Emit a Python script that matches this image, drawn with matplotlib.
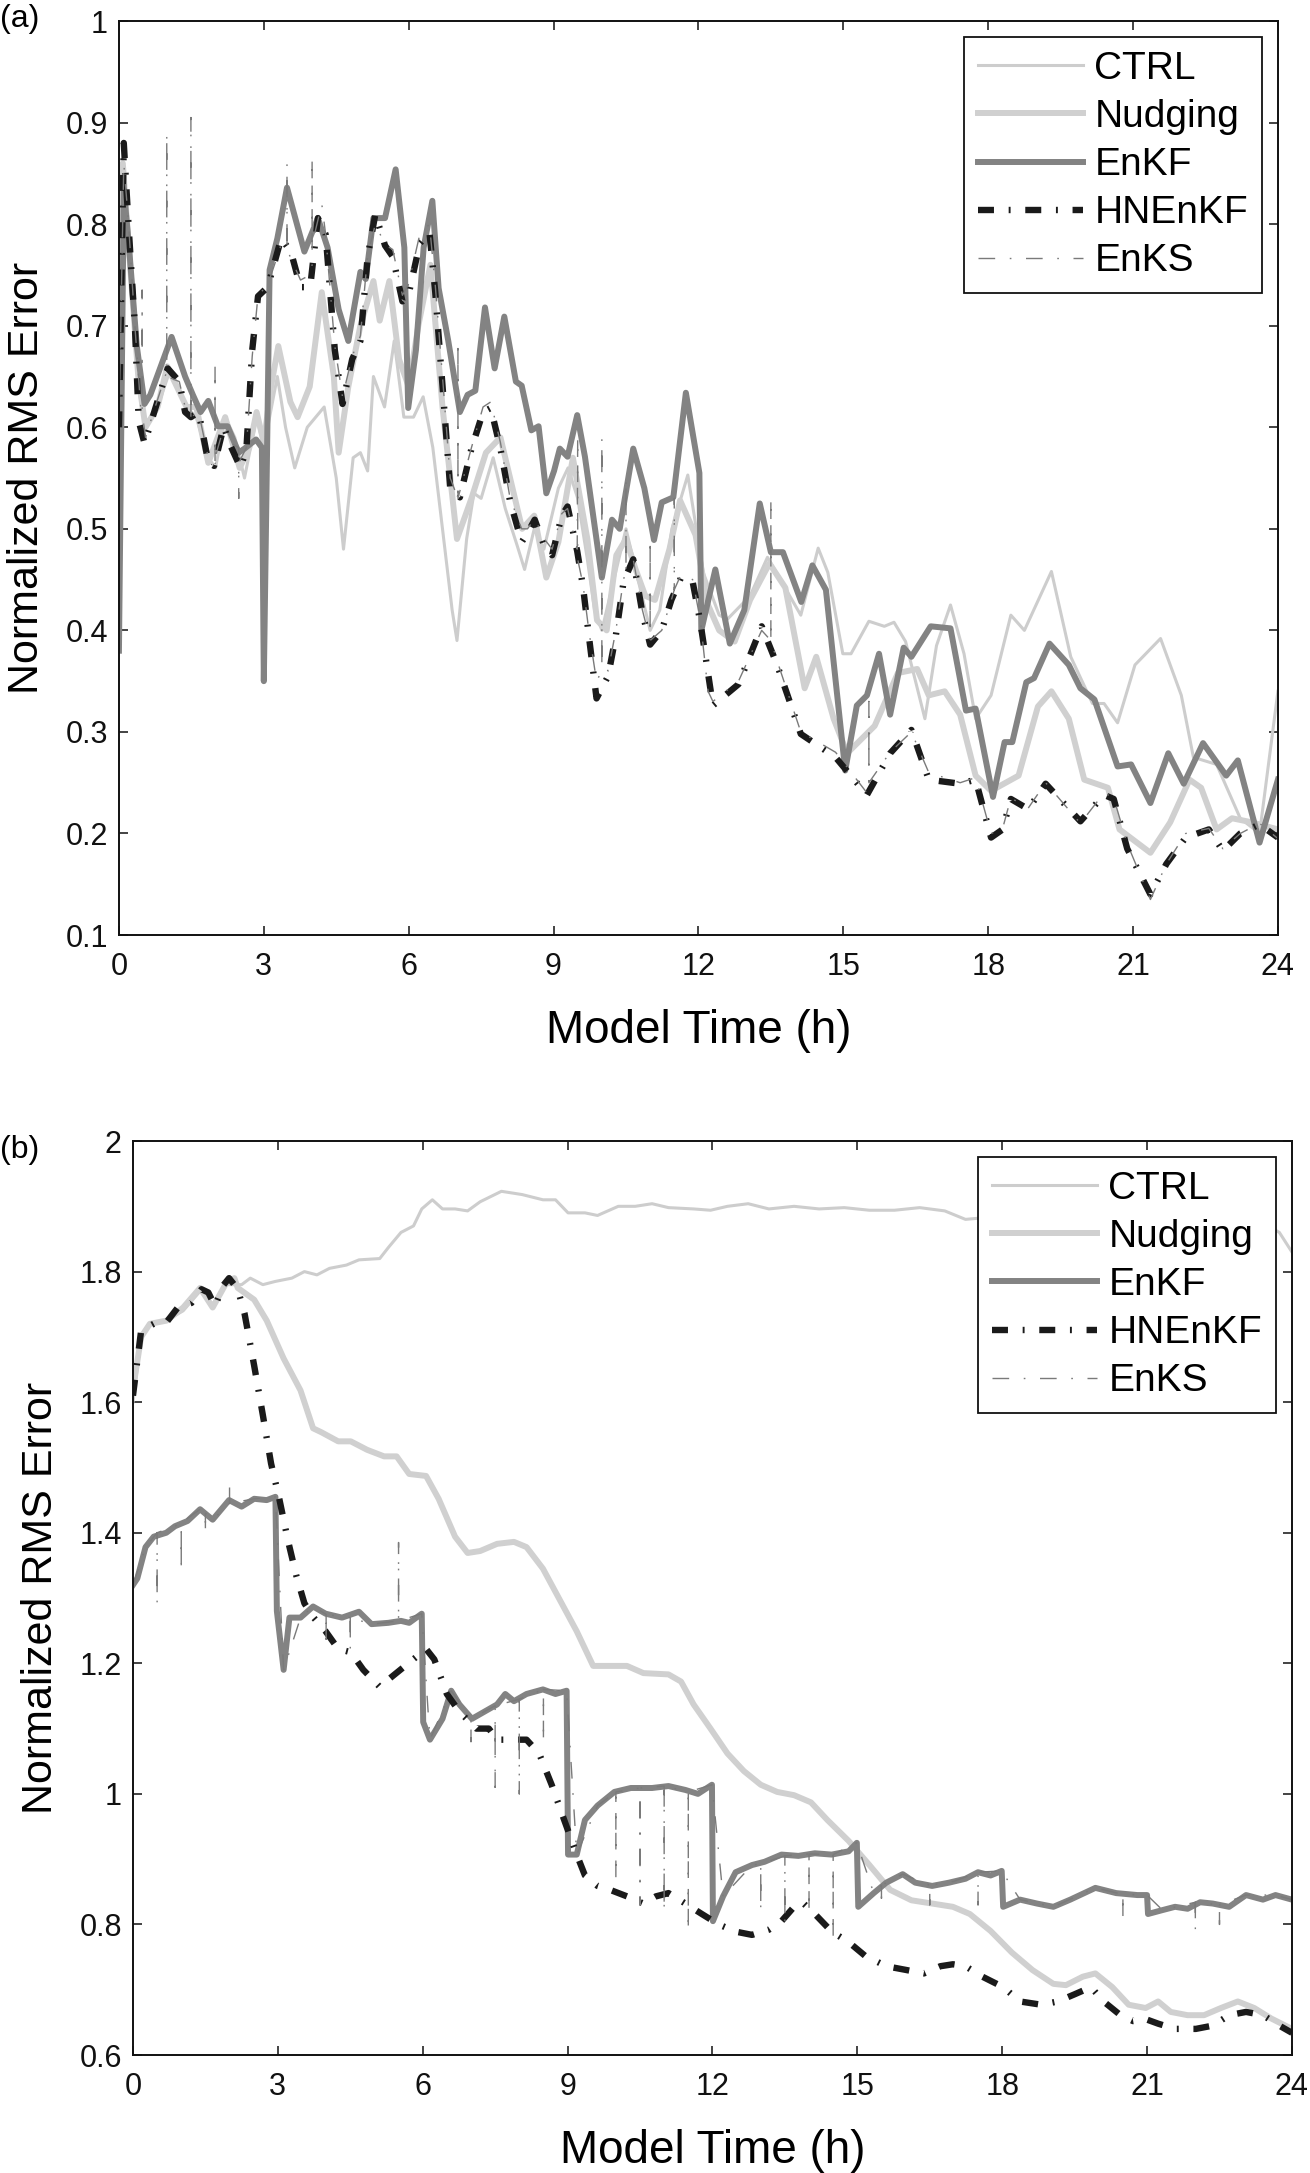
import matplotlib
matplotlib.use('Agg')
import matplotlib.pyplot as plt

plt.rcParams['font.family'] = ['Liberation Sans', 'DejaVu Sans']

# ---- panel (a) ----
a_ctrl_t = [0, 0.05, 0.2, 0.4, 0.55, 0.8, 1.05, 1.4, 1.6, 1.85, 2.0, 2.2, 2.4, 2.6, 2.85, 3.0,
            3.28, 3.45, 3.64, 3.9, 4.25, 4.5, 4.65, 4.85, 5.0, 5.15, 5.27, 5.5, 5.7, 5.9, 6.1,
            6.3, 6.5, 6.7, 6.9, 7.0, 7.2, 7.35, 7.5, 7.75, 8.0, 8.25, 8.4, 8.6, 8.8, 9.1, 9.3,
            9.5, 9.7, 9.85, 10.0, 10.2, 10.5, 10.8, 11.0, 11.2, 11.45, 11.78, 12.1, 12.43, 12.6,
            13.07, 13.43, 14.12, 14.48, 14.68, 14.99, 15.16, 15.53, 15.85, 16.05, 16.29, 16.69,
            16.93, 17.22, 17.5, 17.74, 18.06, 18.47, 18.75, 19.31, 19.71, 20.16, 20.4, 20.68,
            21.04, 21.57, 22.0, 22.25, 22.73, 23.22, 23.62, 24]
a_ctrl_v = [0.45, 0.86, 0.78, 0.64, 0.60, 0.62, 0.655, 0.62, 0.61, 0.57, 0.56, 0.61, 0.59, 0.55,
            0.61, 0.58, 0.65, 0.60, 0.56, 0.60, 0.62, 0.55, 0.48, 0.57, 0.575, 0.557, 0.65, 0.62,
            0.685, 0.61, 0.61, 0.63, 0.58, 0.50, 0.42, 0.39, 0.49, 0.535, 0.53, 0.57, 0.52, 0.483,
            0.46, 0.50, 0.48, 0.54, 0.56, 0.53, 0.47, 0.42, 0.40, 0.44, 0.50, 0.44, 0.40, 0.42,
            0.50, 0.553, 0.457, 0.415, 0.411, 0.434, 0.472, 0.415, 0.481, 0.457, 0.377, 0.377,
            0.409, 0.404, 0.408, 0.389, 0.313, 0.385, 0.425, 0.377, 0.313, 0.336, 0.415, 0.40,
            0.458, 0.374, 0.328, 0.328, 0.309, 0.366, 0.392, 0.336, 0.275, 0.268, 0.215, 0.20,
            0.34]

a_nudg_t = [0, 0.08, 0.2, 0.4, 0.55, 0.8, 1.0, 1.4, 1.6, 1.85, 2.2, 2.5, 2.7, 2.85, 3.0, 3.15,
            3.3, 3.55, 3.7, 3.95, 4.2, 4.45, 4.55, 4.75, 5.0, 5.27, 5.4, 5.6, 5.8, 6.0, 6.2, 6.45,
            6.7, 7.0, 7.3, 7.6, 7.9, 8.1, 8.35, 8.6, 8.85, 9.1, 9.4, 9.7, 9.9, 10.1, 10.3, 10.5,
            10.7, 10.9, 11.1, 11.4, 11.62, 11.94, 12.19, 12.43, 12.75, 13.07, 13.47, 13.8, 14.2,
            14.44, 14.8, 15.08, 15.65, 16.13, 16.53, 16.77, 17.1, 17.42, 17.74, 18.06, 18.63,
            19.03, 19.31, 19.67, 19.99, 20.48, 20.72, 21.36, 21.77, 22.17, 22.41, 22.73, 23.05,
            23.46, 24]
a_nudg_v = [0.55, 0.86, 0.78, 0.65, 0.60, 0.62, 0.66, 0.62, 0.62, 0.565, 0.61, 0.56, 0.58, 0.615,
            0.585, 0.64, 0.68, 0.625, 0.61, 0.64, 0.733, 0.65, 0.575, 0.64, 0.70, 0.744, 0.705,
            0.744, 0.667, 0.64, 0.70, 0.76, 0.62, 0.49, 0.53, 0.575, 0.59, 0.55, 0.50, 0.513,
            0.452, 0.487, 0.57, 0.49, 0.41, 0.40, 0.474, 0.49, 0.46, 0.434, 0.43, 0.48, 0.528,
            0.494, 0.426, 0.40, 0.389, 0.43, 0.466, 0.442, 0.343, 0.374, 0.313, 0.279, 0.306,
            0.358, 0.362, 0.336, 0.34, 0.317, 0.257, 0.242, 0.257, 0.325, 0.34, 0.313, 0.253,
            0.245, 0.204, 0.181, 0.211, 0.253, 0.245, 0.204, 0.215, 0.211, 0.204]

a_enkf_t = [0, 0.1, 0.21, 0.37, 0.53, 0.65, 1.09, 1.37, 1.53, 1.69, 1.85, 2.05, 2.25, 2.48, 2.6,
            2.84, 2.96, 3.0, 3.12, 3.28, 3.48, 3.84, 4.12, 4.32, 4.55, 4.75, 5.0, 5.11, 5.27,
            5.51, 5.73, 5.91, 5.99, 6.15, 6.31, 6.49, 6.62, 6.82, 7.06, 7.22, 7.38, 7.58, 7.78,
            7.98, 8.22, 8.34, 8.54, 8.69, 8.85, 9.01, 9.13, 9.29, 9.49, 9.65, 10.0, 10.21, 10.37,
            10.65, 10.88, 11.08, 11.24, 11.48, 11.74, 12.02, 12.06, 12.35, 12.65, 12.95, 13.27,
            13.5, 13.75, 14.13, 14.36, 14.64, 15.04, 15.28, 15.49, 15.74, 15.97, 16.25, 16.41,
            16.81, 17.22, 17.54, 17.74, 18.1, 18.34, 18.5, 18.79, 18.95, 19.27, 19.67, 19.91,
            20.2, 20.68, 20.96, 21.36, 21.73, 22.05, 22.45, 22.93, 23.17, 23.62, 24]
a_enkf_v = [0.38, 0.834, 0.777, 0.68, 0.623, 0.632, 0.689, 0.65, 0.632, 0.615, 0.626, 0.601,
            0.601, 0.575, 0.579, 0.588, 0.58, 0.35, 0.755, 0.786, 0.836, 0.773, 0.806, 0.777,
            0.716, 0.685, 0.753, 0.746, 0.806, 0.806, 0.854, 0.777, 0.619, 0.676, 0.777, 0.823,
            0.737, 0.685, 0.615, 0.632, 0.636, 0.718, 0.658, 0.709, 0.645, 0.641, 0.597, 0.601,
            0.535, 0.557, 0.579, 0.571, 0.612, 0.571, 0.452, 0.509, 0.50, 0.579, 0.54, 0.489,
            0.526, 0.531, 0.634, 0.555, 0.40, 0.46, 0.387, 0.42, 0.525, 0.477, 0.477, 0.428,
            0.464, 0.44, 0.262, 0.326, 0.336, 0.377, 0.317, 0.383, 0.374, 0.404, 0.402, 0.321,
            0.323, 0.236, 0.29, 0.29, 0.349, 0.353, 0.387, 0.366, 0.343, 0.332, 0.266, 0.268,
            0.23, 0.279, 0.249, 0.289, 0.257, 0.272, 0.191, 0.253]

a_hn_t = [0, 0.1, 0.21, 0.33, 0.41, 0.53, 0.73, 1.01, 1.25, 1.37, 1.49, 1.65, 1.85, 1.97, 2.17,
          2.29, 2.52, 2.64, 2.76, 2.88, 3.08, 3.36, 3.56, 3.76, 3.96, 4.12, 4.28, 4.47, 4.63,
          4.83, 5.0, 5.15, 5.31, 5.51, 5.67, 5.87, 5.99, 6.23, 6.43, 6.55, 6.7, 6.86, 7.06, 7.3,
          7.54, 7.7, 7.9, 8.1, 8.34, 8.46, 8.61, 8.81, 8.97, 9.17, 9.29, 9.49, 9.61, 9.73, 9.89,
          10.13, 10.29, 10.45, 10.65, 10.84, 11.0, 11.24, 11.44, 11.64, 11.88, 12.04, 12.3,
          12.83, 13.31, 13.63, 14.12, 14.84, 15.49, 15.97, 16.41, 16.77, 17.42, 17.74, 18.06,
          18.3, 18.47, 18.83, 19.19, 19.91, 20.4, 20.6, 20.88, 21.36, 21.69, 22.09, 22.57,
          22.86, 23.22, 23.62, 24]
a_hn_v = [0.60, 0.88, 0.79, 0.70, 0.606, 0.584, 0.615, 0.658, 0.645, 0.615, 0.61, 0.615, 0.566,
          0.562, 0.601, 0.584, 0.56, 0.579, 0.676, 0.729, 0.738, 0.786, 0.773, 0.738, 0.738,
          0.806, 0.79, 0.676, 0.623, 0.667, 0.685, 0.768, 0.81, 0.779, 0.768, 0.724, 0.729,
          0.781, 0.792, 0.733, 0.641, 0.54, 0.531, 0.579, 0.615, 0.619, 0.579, 0.527, 0.487,
          0.496, 0.509, 0.483, 0.474, 0.513, 0.522, 0.478, 0.443, 0.395, 0.333, 0.355, 0.395,
          0.448, 0.47, 0.417, 0.386, 0.40, 0.43, 0.452, 0.448, 0.408, 0.326, 0.347, 0.404,
          0.366, 0.298, 0.275, 0.238, 0.279, 0.302, 0.253, 0.249, 0.253, 0.196, 0.204, 0.234,
          0.224, 0.249, 0.212, 0.238, 0.234, 0.185, 0.14, 0.17, 0.196, 0.204, 0.183, 0.20,
          0.209, 0.196]

a_enks_t = [0.0, 0.1, 0.2, 0.33, 0.45, 0.48, 0.48, 0.48, 0.55, 0.75, 0.99, 0.99, 0.99, 1.25,
            1.37, 1.49, 1.49, 1.49, 1.65, 1.85, 1.99, 1.99, 1.99, 2.17, 2.29, 2.48, 2.48, 2.48,
            2.64, 2.76, 2.88, 3.08, 3.36, 3.48, 3.48, 3.48, 3.76, 3.96, 4.0, 4.0, 4.0, 4.2, 4.28,
            4.47, 4.63, 4.83, 5.0, 5.15, 5.31, 5.51, 5.67, 5.87, 5.99, 6.23, 6.43, 6.55, 6.7,
            6.86, 7.02, 7.02, 7.02, 7.3, 7.54, 7.7, 7.9, 8.1, 8.34, 8.46, 8.61, 8.81, 8.97, 9.17,
            9.29, 9.49, 9.5, 9.5, 9.61, 9.73, 9.89, 10.0, 10.0, 10.0, 10.13, 10.29, 10.45, 10.5,
            10.5, 10.5, 10.65, 10.84, 11.0, 11.0, 11.0, 11.24, 11.44, 11.5, 11.5, 11.5, 11.64,
            11.88, 12.04, 12.2, 12.3, 12.83, 13.31, 13.5, 13.5, 13.5, 13.63, 14.12, 14.84, 15.49,
            15.53, 15.53, 15.53, 15.97, 16.41, 16.77, 17.42, 17.74, 18.06, 18.3, 18.47, 18.83,
            19.19, 19.91, 20.4, 20.6, 20.88, 21.36, 21.69, 22.09, 22.57, 22.86, 23.22, 23.62, 24]
a_enks_v = [0.60, 0.86, 0.80, 0.70, 0.62, 0.62, 0.735, 0.615, 0.59, 0.62, 0.655, 0.89, 0.65,
            0.645, 0.62, 0.61, 0.905, 0.61, 0.615, 0.57, 0.565, 0.66, 0.57, 0.60, 0.585, 0.58,
            0.53, 0.565, 0.58, 0.67, 0.73, 0.74, 0.78, 0.775, 0.86, 0.775, 0.745, 0.75, 0.76,
            0.865, 0.78, 0.82, 0.79, 0.68, 0.63, 0.67, 0.69, 0.77, 0.80, 0.78, 0.775, 0.73, 0.74,
            0.79, 0.80, 0.74, 0.65, 0.55, 0.53, 0.685, 0.53, 0.58, 0.62, 0.625, 0.585, 0.53, 0.50,
            0.50, 0.51, 0.49, 0.48, 0.515, 0.52, 0.48, 0.59, 0.47, 0.445, 0.40, 0.35, 0.36, 0.59,
            0.37, 0.36, 0.40, 0.45, 0.46, 0.55, 0.46, 0.47, 0.42, 0.39, 0.49, 0.39, 0.40, 0.43,
            0.44, 0.53, 0.44, 0.455, 0.45, 0.41, 0.34, 0.33, 0.35, 0.40, 0.39, 0.53, 0.39, 0.37,
            0.30, 0.28, 0.24, 0.24, 0.33, 0.25, 0.28, 0.30, 0.26, 0.25, 0.255, 0.20, 0.205, 0.235,
            0.225, 0.25, 0.21, 0.24, 0.235, 0.19, 0.135, 0.17, 0.20, 0.205, 0.185, 0.20, 0.21,
            0.195]

# ---- panel (b) ----
b_ctrl_t = [0, 0.17, 0.35, 0.69, 1.04, 1.39, 1.65, 1.91, 2.25, 2.43, 2.69, 2.95, 3.29, 3.55,
            3.81, 4.07, 4.42, 4.68, 5.11, 5.29, 5.55, 5.81, 5.98, 6.2, 6.41, 6.67, 6.93, 7.19,
            7.63, 8.06, 8.49, 8.75, 9.01, 9.36, 9.62, 10.05, 10.4, 10.75, 11.09, 11.61, 11.96,
            12.31, 12.74, 13.17, 13.69, 14.21, 14.73, 15.25, 15.77, 16.29, 16.81, 17.24, 18.0,
            20.0, 22.0, 23.5, 23.74, 24]
b_ctrl_v = [1.60, 1.70, 1.72, 1.725, 1.74, 1.77, 1.75, 1.78, 1.78, 1.79, 1.78, 1.785, 1.79, 1.80,
            1.795, 1.805, 1.81, 1.818, 1.82, 1.837, 1.86, 1.87, 1.896, 1.91, 1.896, 1.896, 1.893,
            1.907, 1.923, 1.918, 1.91, 1.91, 1.89, 1.89, 1.886, 1.90, 1.90, 1.904, 1.898, 1.896,
            1.894, 1.90, 1.904, 1.896, 1.90, 1.896, 1.898, 1.894, 1.894, 1.898, 1.893, 1.88,
            1.885, 1.89, 1.88, 1.87, 1.86, 1.83]

b_nudg_t = [0, 0.17, 0.35, 0.7, 1.04, 1.39, 1.65, 1.95, 2.1, 2.17, 2.51, 2.77, 3.12, 3.47, 3.73,
            3.9, 4.25, 4.51, 4.85, 5.2, 5.46, 5.72, 6.07, 6.33, 6.67, 6.93, 7.19, 7.54, 7.89,
            8.15, 8.49, 8.84, 9.19, 9.53, 9.88, 10.23, 10.57, 11.09, 11.35, 11.61, 11.96, 12.31,
            12.65, 13.0, 13.34, 13.69, 14.04, 14.38, 14.82, 15.25, 15.68, 16.12, 16.55, 16.98,
            17.33, 17.76, 18.2, 18.63, 19.06, 19.32, 19.67, 19.93, 20.28, 20.62, 20.97, 21.23,
            21.49, 21.84, 22.18, 22.53, 22.88, 23.22, 23.57, 24]
b_nudg_v = [1.62, 1.70, 1.72, 1.725, 1.745, 1.775, 1.745, 1.785, 1.79, 1.775, 1.757, 1.725,
            1.667, 1.618, 1.56, 1.554, 1.54, 1.54, 1.527, 1.517, 1.517, 1.49, 1.487, 1.452,
            1.394, 1.369, 1.372, 1.383, 1.386, 1.378, 1.345, 1.297, 1.249, 1.196, 1.196, 1.196,
            1.185, 1.183, 1.172, 1.137, 1.10, 1.062, 1.035, 1.014, 1.003, 0.998, 0.987, 0.96,
            0.928, 0.891, 0.853, 0.837, 0.832, 0.827, 0.816, 0.79, 0.757, 0.73, 0.709, 0.707,
            0.72, 0.725, 0.704, 0.677, 0.672, 0.682, 0.666, 0.661, 0.661, 0.672, 0.682, 0.672,
            0.656, 0.64]

b_enkf_t = [0, 0.09, 0.26, 0.43, 0.69, 0.87, 1.13, 1.39, 1.65, 1.99, 2.25, 2.51, 2.77, 2.95,
            2.98, 3.12, 3.24, 3.47, 3.73, 3.99, 4.33, 4.68, 4.94, 5.29, 5.55, 5.72, 5.98, 6.01,
            6.15, 6.41, 6.59, 6.76, 7.02, 7.28, 7.54, 7.71, 7.89, 8.15, 8.49, 8.75, 8.98, 9.01,
            9.19, 9.36, 9.62, 9.97, 10.31, 10.75, 11.09, 11.44, 11.7, 11.99, 12.01, 12.22, 12.48,
            12.82, 13.08, 13.43, 13.78, 14.12, 14.47, 14.82, 14.99, 15.02, 15.34, 15.6, 15.94,
            16.2, 16.55, 16.9, 17.24, 17.5, 17.76, 17.99, 18.02, 18.37, 18.72, 19.06, 19.41,
            19.93, 20.36, 20.8, 21.0, 21.02, 21.32, 21.58, 21.84, 22.1, 22.36, 22.7, 23.05, 23.4,
            23.66, 24]
b_enkf_v = [1.32, 1.33, 1.378, 1.394, 1.40, 1.41, 1.418, 1.436, 1.42, 1.45, 1.44, 1.452, 1.45,
            1.455, 1.28, 1.19, 1.27, 1.27, 1.287, 1.276, 1.27, 1.279, 1.26, 1.262, 1.265, 1.262,
            1.276, 1.11, 1.083, 1.115, 1.158, 1.137, 1.115, 1.126, 1.137, 1.153, 1.142, 1.153,
            1.16, 1.153, 1.158, 0.907, 0.907, 0.96, 0.982, 1.003, 1.009, 1.009, 1.012, 1.006,
            1.0, 1.014, 0.805, 0.843, 0.88, 0.891, 0.896, 0.907, 0.905, 0.909, 0.907, 0.912,
            0.925, 0.827, 0.848, 0.864, 0.877, 0.864, 0.859, 0.864, 0.87, 0.88, 0.875, 0.882,
            0.827, 0.838, 0.832, 0.827, 0.838, 0.856, 0.848, 0.845, 0.845, 0.816, 0.822, 0.827,
            0.824, 0.834, 0.832, 0.827, 0.845, 0.838, 0.845, 0.838]

b_hn_t = [0, 0.17, 0.43, 0.69, 0.95, 1.21, 1.42, 1.56, 1.70, 1.87, 1.99, 2.17, 2.31, 2.51, 2.69,
          2.86, 3.03, 3.21, 3.38, 3.55, 3.73, 3.99, 4.25, 4.51, 4.77, 5.11, 5.37, 5.72, 6.07,
          6.24, 6.5, 6.76, 7.11, 7.37, 7.54, 7.89, 8.15, 8.41, 8.67, 8.93, 9.19, 9.36, 9.62,
          9.88, 10.23, 10.57, 10.83, 11.09, 11.44, 11.78, 12.13, 12.48, 12.82, 13.17, 13.43,
          13.69, 13.86, 14.12, 14.47, 14.82, 15.16, 15.6, 16.03, 16.38, 16.72, 16.98, 17.24,
          17.59, 18.02, 18.37, 18.81, 19.15, 19.5, 19.84, 20.1, 20.45, 20.71, 20.97, 21.23,
          21.58, 22.01, 22.36, 22.7, 23.05, 23.4, 23.74, 24]
b_hn_v = [1.61, 1.71, 1.72, 1.722, 1.747, 1.752, 1.773, 1.768, 1.747, 1.779, 1.79, 1.773, 1.736,
          1.656, 1.58, 1.506, 1.452, 1.388, 1.335, 1.292, 1.271, 1.249, 1.222, 1.217, 1.19,
          1.164, 1.18, 1.201, 1.222, 1.206, 1.153, 1.126, 1.10, 1.10, 1.083, 1.083, 1.083,
          1.062, 1.014, 0.96, 0.907, 0.875, 0.859, 0.853, 0.843, 0.832, 0.843, 0.848, 0.832,
          0.816, 0.80, 0.789, 0.784, 0.792, 0.805, 0.827, 0.834, 0.816, 0.789, 0.773, 0.752,
          0.736, 0.73, 0.725, 0.736, 0.739, 0.736, 0.72, 0.704, 0.682, 0.677, 0.682, 0.693,
          0.704, 0.682, 0.661, 0.652, 0.655, 0.648, 0.64, 0.64, 0.645, 0.661, 0.666, 0.661,
          0.645, 0.634]

b_enks_t = [0, 0.26, 0.5, 0.5, 0.5, 0.87, 1.0, 1.0, 1.0, 1.39, 1.5, 1.5, 1.5, 1.65, 2.0, 2.0,
            2.0, 2.51, 2.95, 3.12, 3.47, 3.73, 4.0, 4.0, 4.0, 4.5, 4.5, 4.5, 4.94, 5.5, 5.5, 5.5,
            5.98, 6.15, 6.59, 7.0, 7.0, 7.0, 7.5, 7.5, 7.5, 8.0, 8.0, 8.0, 8.5, 8.5, 8.5, 8.98,
            9.19, 9.62, 10.0, 10.0, 10.0, 10.5, 10.5, 10.5, 11.0, 11.0, 11.0, 11.5, 11.5, 11.5,
            11.99, 12.22, 12.82, 13.0, 13.0, 13.0, 13.5, 13.5, 13.5, 14.0, 14.0, 14.0, 14.5,
            14.5, 14.5, 14.99, 15.34, 15.5, 15.5, 15.5, 15.94, 16.5, 16.5, 16.5, 17.0, 17.5,
            17.5, 17.5, 17.99, 18.37, 19.06, 19.93, 20.5, 20.5, 20.5, 21.0, 21.32, 22.0, 22.0,
            22.0, 22.5, 22.5, 22.5, 23.05, 23.66, 24, 24]
b_enks_v = [1.32, 1.378, 1.40, 1.29, 1.40, 1.41, 1.415, 1.34, 1.415, 1.436, 1.43, 1.40, 1.43,
            1.42, 1.445, 1.47, 1.445, 1.452, 1.455, 1.19, 1.27, 1.287, 1.275, 1.225, 1.275, 1.27,
            1.22, 1.27, 1.26, 1.265, 1.385, 1.265, 1.276, 1.083, 1.158, 1.115, 1.08, 1.115,
            1.135, 1.01, 1.135, 1.145, 1.0, 1.145, 1.16, 1.08, 1.16, 1.158, 0.907, 0.982, 1.003,
            0.87, 1.003, 1.009, 0.83, 1.009, 1.012, 0.82, 1.012, 1.003, 0.79, 1.003, 1.014,
            0.843, 0.891, 0.893, 0.82, 0.893, 0.905, 0.80, 0.905, 0.908, 0.82, 0.908, 0.907,
            0.78, 0.907, 0.925, 0.848, 0.86, 0.84, 0.86, 0.877, 0.86, 0.83, 0.86, 0.866, 0.88,
            0.83, 0.88, 0.882, 0.838, 0.827, 0.856, 0.846, 0.81, 0.846, 0.845, 0.822, 0.834,
            0.79, 0.834, 0.83, 0.80, 0.83, 0.845, 0.845, 0.838, 0.785]

labels = ['CTRL', 'Nudging', 'EnKF', 'HNEnKF', 'EnKS']

TICK_FS = 22
XLABEL_FS = 33
YLABEL_FS = 31
LEGEND_FS = 28


def draw_panel(ax, series, ylim, yticks, yticklabels):
    ct, cv, nt, nv, et, ev, ht, hv, st, sv = series
    smooth = dict(solid_joinstyle='round', dash_joinstyle='round')
    ax.plot(ct, cv, color='#cdcdcd', lw=2.2, label=labels[0], **smooth)
    ax.plot(nt, nv, color='#d0d0d0', lw=4.3, label=labels[1], **smooth)
    ax.plot(et, ev, color='#838383', lw=4.3, label=labels[2], **smooth)
    ax.plot(ht, hv, color='#1a1a1a', lw=4.6, label=labels[3],
            linestyle=(0, (2.5, 2.3, 0.3, 2.3)), **smooth)
    ax.plot(st, sv, color='#7a7a7a', lw=1.0, label=labels[4],
            linestyle=(0, (12, 10.5, 1.2, 10.5)))
    ax.set_xlim(0, 24)
    ax.set_ylim(*ylim)
    ax.set_xticks(range(0, 25, 3))
    ax.set_yticks(yticks)
    ax.set_yticklabels(yticklabels)
    ax.tick_params(direction='in', length=6.5, width=1.1, top=True, right=True,
                   labelsize=TICK_FS, colors='#111111')
    ax.tick_params(axis='x', pad=12)
    ax.tick_params(axis='y', pad=8)
    for sp in ax.spines.values():
        sp.set_linewidth(1.4)
        sp.set_color('#111111')
    ax.set_xlabel('Model Time (h)', fontsize=XLABEL_FS, labelpad=20)
    ax.set_ylabel('Normalized RMS Error', fontsize=YLABEL_FS, labelpad=13)
    leg = ax.legend(loc='upper right', fontsize=LEGEND_FS, handlelength=2.7,
                    handletextpad=0.3, labelspacing=0.31, borderpad=0.35,
                    borderaxespad=0.42, fancybox=False, framealpha=1)
    leg.get_frame().set_edgecolor('#111111')
    leg.get_frame().set_linewidth(1.3)


fig = plt.figure(figsize=(13.1, 21.73), dpi=100)

ax1 = fig.add_axes([0.0908, 0.5697, 0.8847, 0.4206])
draw_panel(ax1, [a_ctrl_t, a_ctrl_v, a_nudg_t, a_nudg_v, a_enkf_t, a_enkf_v,
                 a_hn_t, a_hn_v, a_enks_t, a_enks_v],
           (0.1, 1.0), [0.1 * i for i in range(1, 11)],
           ['0.1', '0.2', '0.3', '0.4', '0.5', '0.6', '0.7', '0.8', '0.9', '1'])

ax2 = fig.add_axes([0.1015, 0.0543, 0.8847, 0.4206])
draw_panel(ax2, [b_ctrl_t, b_ctrl_v, b_nudg_t, b_nudg_v, b_enkf_t, b_enkf_v,
                 b_hn_t, b_hn_v, b_enks_t, b_enks_v],
           (0.6, 2.0), [0.6, 0.8, 1.0, 1.2, 1.4, 1.6, 1.8, 2.0],
           ['0.6', '0.8', '1', '1.2', '1.4', '1.6', '1.8', '2'])

fig.text(0.0, 1 - 19 / 2173, '(a)', fontsize=23, ha='left', va='center')
fig.text(0.0, 1 - 1150 / 2173, '(b)', fontsize=23, ha='left', va='center')

fig.savefig('out.png', dpi=100)
